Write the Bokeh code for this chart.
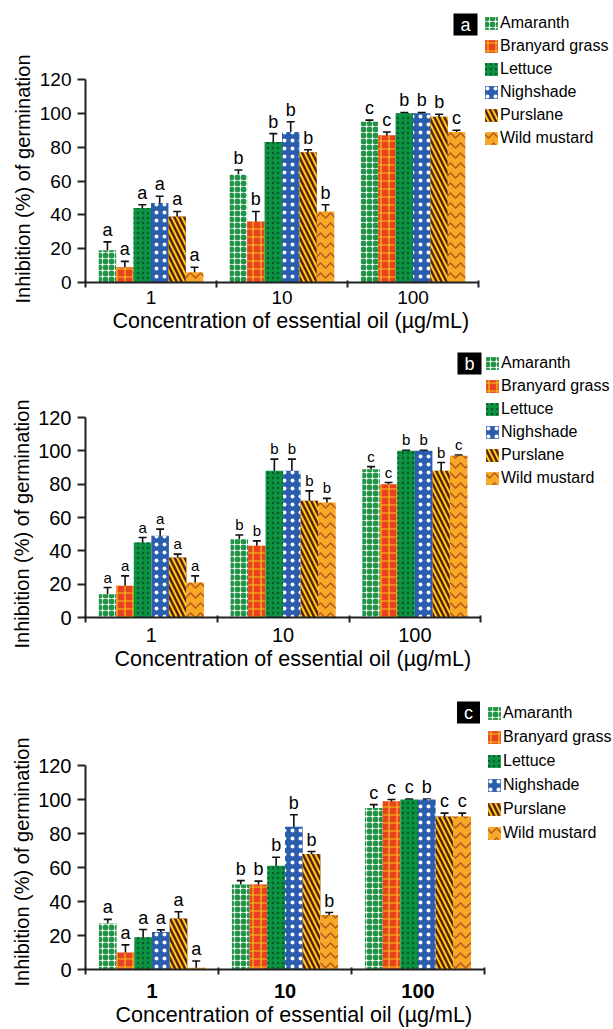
from bokeh.plotting import figure
from bokeh.models import Range1d, FixedTicker, Whisker, TeeHead, Label, Title, ColumnDataSource
from bokeh.transform import dodge
from bokeh.layouts import column
from bokeh.embed import file_html
from bokeh.resources import INLINE
from bokeh.core.properties import value

# ---------------- data ----------------
CONCENTRATIONS = ["1", "10", "100"]
SPECIES = ["Amaranth", "Branyard grass", "Lettuce", "Nighshade", "Purslane", "Wild mustard"]
Y_TICKS = [0, 20, 40, 60, 80, 100, 120]
X_TITLE = "Concentration of essential oil (µg/mL)"
Y_TITLE = "Inhibition (%) of germination"

# panel a
A_MEAN = {"Amaranth": [19, 64, 95], "Branyard grass": [9, 36, 87], "Lettuce": [44, 83, 100],
          "Nighshade": [47, 89, 100], "Purslane": [39, 77, 98], "Wild mustard": [6, 42, 89]}
A_ERR = {"Amaranth": [5, 2.5, 1], "Branyard grass": [3.5, 6, 2], "Lettuce": [2, 5, 0.5],
         "Nighshade": [4, 6, 0.5], "Purslane": [3, 1.5, 1.5], "Wild mustard": [3, 4, 1]}
A_LETTERS = {"Amaranth": ["a", "b", "c"], "Branyard grass": ["a", "b", "c"], "Lettuce": ["a", "b", "b"],
             "Nighshade": ["a", "b", "b"], "Purslane": ["a", "b", "b"], "Wild mustard": ["a", "b", "c"]}

# panel b
B_MEAN = {"Amaranth": [14, 47, 89], "Branyard grass": [19, 43, 80], "Lettuce": [45, 88, 100],
          "Nighshade": [49, 88, 100], "Purslane": [36, 70, 88], "Wild mustard": [21, 69, 97]}
B_ERR = {"Amaranth": [4, 2.5, 1.5], "Branyard grass": [6, 3, 1], "Lettuce": [3, 7, 0.3],
         "Nighshade": [4, 7, 0.3], "Purslane": [2, 6, 5], "Wild mustard": [4, 2.5, 0.5]}
B_LETTERS = {"Amaranth": ["a", "b", "c"], "Branyard grass": ["a", "b", "c"], "Lettuce": ["a", "b", "b"],
             "Nighshade": ["a", "b", "b"], "Purslane": ["a", "b", "b"], "Wild mustard": ["a", "b", "c"]}

# panel c
C_MEAN = {"Amaranth": [27, 50, 95], "Branyard grass": [10, 50, 99], "Lettuce": [19, 61, 100],
          "Nighshade": [22, 84, 100], "Purslane": [30, 68, 90], "Wild mustard": [1, 32, 90]}
C_ERR = {"Amaranth": [2.5, 2.3, 2], "Branyard grass": [4.5, 2, 1], "Lettuce": [4.5, 5, 0.3],
         "Nighshade": [1.3, 7, 0.3], "Purslane": [4, 1.4, 2], "Wild mustard": [4, 1.5, 2]}
C_LETTERS = {"Amaranth": ["a", "b", "c"], "Branyard grass": ["a", "b", "c"], "Lettuce": ["a", "b", "c"],
             "Nighshade": ["a", "b", "b"], "Purslane": ["a", "b", "c"], "Wild mustard": ["a", "b", "c"]}

# ---------------- styles ----------------
FONT = "Liberation Sans"
BAR_W = 0.133
STYLES = {
    "Amaranth": dict(fill_color="white", hatch_pattern="o", hatch_color="#239447", hatch_scale=6, hatch_weight=3),
    "Branyard grass": dict(fill_color="#e8421f", hatch_pattern="+", hatch_color="#f4c21c", hatch_scale=8, hatch_weight=1.2),
    "Lettuce": dict(fill_color="#0c9242", hatch_pattern=".", hatch_color="#075a27", hatch_scale=5, hatch_weight=1),
    "Nighshade": dict(fill_color="#2a5cad", hatch_pattern=".", hatch_color="white", hatch_scale=8, hatch_weight=1),
    "Purslane": dict(fill_color="#661d0c", hatch_pattern="\\", hatch_color="#f2d31b", hatch_scale=10, hatch_weight=2),
    "Wild mustard": dict(fill_color="#f7a826", hatch_pattern="v", hatch_color="#b8561b", hatch_scale=10, hatch_weight=1.5),
}

W = 613


def make_panel(tag, means, errs, letters, height, left, bottom, cat_px, y_px,
               tick_fs, letter_fs, xlab_standoff, bold_x, xtitle_offset,
               ytitle_offset, leg_loc, leg_spacing, tag_loc):
    n = len(CONCENTRATIONS)
    x_end = n * (W - left) / cat_px
    y_end = Y_TICKS[-1] * (height - bottom) / y_px
    p = figure(width=W, height=height, x_range=Range1d(0, x_end), y_range=Range1d(0, y_end),
               output_backend="svg", toolbar_location=None,
               min_border_left=left, min_border_right=0,
               min_border_top=0, min_border_bottom=bottom)
    p.outline_line_color = None
    p.xgrid.visible = False
    p.ygrid.visible = False

    xc = [i + 0.5 for i in range(n)]
    for j, s in enumerate(SPECIES):
        off = (j - (len(SPECIES) - 1) / 2) * BAR_W
        m, e = means[s], errs[s]
        src = ColumnDataSource(dict(
            x=xc, top=m,
            upper=[a + b for a, b in zip(m, e)],
            lower=[max(0, a - b) for a, b in zip(m, e)],
            letter=letters[s]))
        p.vbar(x=dodge("x", off), top="top", width=BAR_W, source=src,
               line_color=None, legend_label=s, **STYLES[s])
        p.add_layout(Whisker(base=dodge("x", off), upper="upper", lower="lower", source=src,
                             line_color="#111111", line_width=1.6,
                             upper_head=TeeHead(size=8, line_width=1.6, line_color="#111111"),
                             lower_head=TeeHead(size=8, line_width=1.6, line_color="#111111")))
        p.text(x=dodge("x", off), y="upper", text="letter", source=src,
               text_align="center", text_baseline="bottom", y_offset=-2,
               text_font=value(FONT), text_font_size=letter_fs, text_color="black")

    # x axis: labels at centres, ticks at category boundaries
    xa = p.xaxis[0]
    xa.bounds = (0, n)
    xa.ticker = FixedTicker(ticks=xc, minor_ticks=list(range(n + 1)))
    xa.major_label_overrides = {x: c for x, c in zip(xc, CONCENTRATIONS)}
    xa.major_tick_line_color = None
    xa.minor_tick_line_color = "#222222"
    xa.minor_tick_line_width = 2
    xa.minor_tick_out = 5
    xa.minor_tick_in = 2
    xa.axis_line_color = "#222222"
    xa.axis_line_width = 2
    xa.major_label_text_font = FONT
    xa.major_label_text_font_size = tick_fs
    xa.major_label_text_color = "black"
    xa.major_label_text_font_style = "bold" if bold_x else "normal"
    xa.major_label_standoff = xlab_standoff

    ya = p.yaxis[0]
    ya.bounds = (Y_TICKS[0], Y_TICKS[-1])
    ya.ticker = FixedTicker(ticks=Y_TICKS, minor_ticks=[])
    ya.major_tick_out = 8
    ya.major_tick_in = 0
    ya.major_tick_line_width = 2
    ya.major_tick_line_color = "#222222"
    ya.axis_line_color = "#222222"
    ya.axis_line_width = 2
    ya.major_label_text_font = FONT
    ya.major_label_text_font_size = tick_fs
    ya.major_label_text_color = "black"
    ya.major_label_standoff = 6

    # axis titles (aligned on the 0..3 / 0..120 part of the frame)
    p.add_layout(Title(text=X_TITLE, align="left", offset=xtitle_offset, standoff=0,
                       text_font=FONT, text_font_size="21.5px", text_font_style="normal",
                       text_color="black"), "below")
    p.add_layout(Title(text=Y_TITLE, align="left", offset=ytitle_offset, standoff=6,
                       text_font=FONT, text_font_size="20px", text_font_style="normal",
                       text_color="black"), "left")

    leg = p.legend[0]
    leg.location = leg_loc
    leg.padding = 0
    leg.margin = 0
    leg.border_line_color = None
    leg.background_fill_alpha = 0
    leg.glyph_width = 16
    leg.glyph_height = 16
    leg.label_height = 18
    leg.spacing = leg_spacing
    leg.label_standoff = 1
    leg.label_text_font = FONT
    leg.label_text_font_size = "16px"
    leg.label_text_color = "black"

    p.add_layout(Label(x=tag_loc[0], y=tag_loc[1], x_units="screen", y_units="screen", text=tag,
                       text_color="white", text_font=FONT, text_font_size="18px",
                       text_align="center", text_baseline="middle",
                       background_fill_color="black",
                       padding=dict(left=7, right=7, top=1, bottom=1)))
    return p


pa = make_panel("a", A_MEAN, A_ERR, A_LETTERS, height=340, left=85, bottom=58, cat_px=393, y_px=203,
                tick_fs="19px", letter_fs="18px", xlab_standoff=2, bold_x=False,
                xtitle_offset=27, ytitle_offset=-21,
                leg_loc=(398, 135), leg_spacing=5, tag_loc=(380, 258))
pb = make_panel("b", B_MEAN, B_ERR, B_LETTERS, height=350, left=84, bottom=73, cat_px=396, y_px=200,
                tick_fs="20px", letter_fs="15px", xlab_standoff=4, bold_x=False,
                xtitle_offset=29, ytitle_offset=-31,
                leg_loc=(399, 130), leg_spacing=5, tag_loc=(384, 254))
pc = make_panel("c", C_MEAN, C_ERR, C_LETTERS, height=339, left=85, bottom=60, cat_px=399, y_px=204,
                tick_fs="20px", letter_fs="18px", xlab_standoff=8, bold_x=True,
                xtitle_offset=30, ytitle_offset=-17,
                leg_loc=(401, 127), leg_spacing=6, tag_loc=(383, 257))

layout = column(pa, pb, pc, spacing=0)
open("out.html", "w").write(file_html(layout, INLINE))
